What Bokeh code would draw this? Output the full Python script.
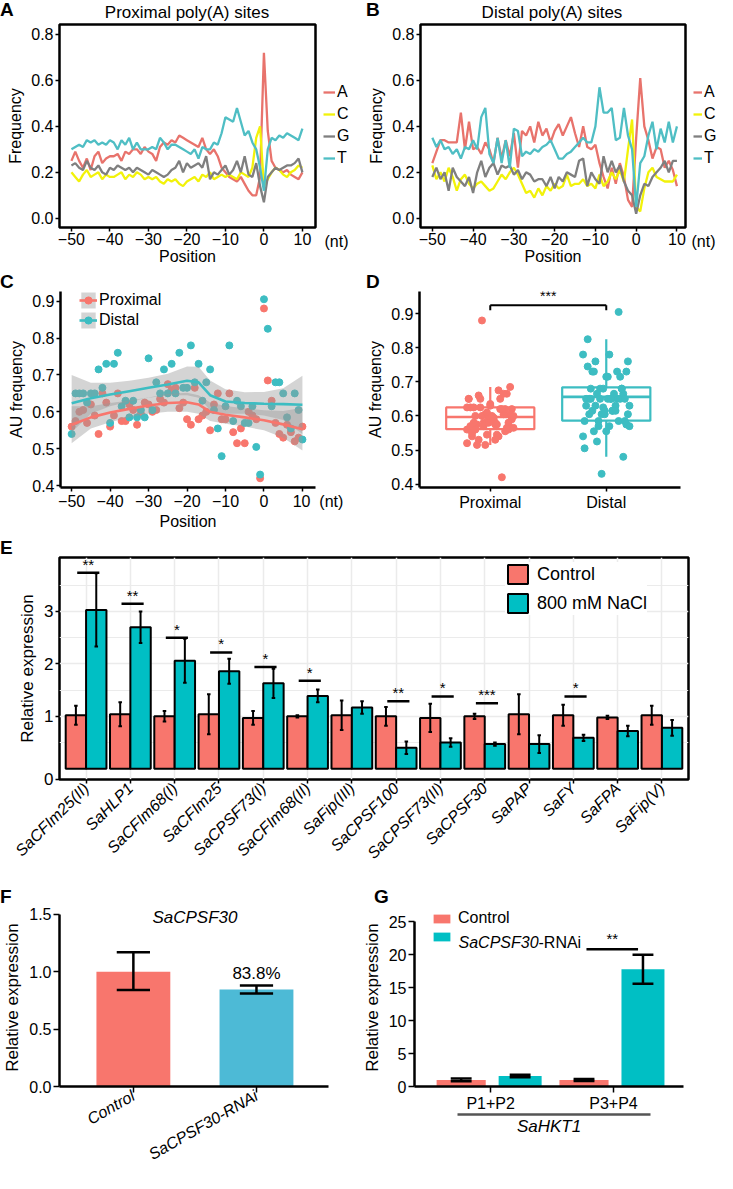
import math
from bokeh.plotting import figure
from bokeh.models import (ColumnDataSource, Legend, LegendItem, FixedTicker, Div,
                          LinearAxis, FactorRange, Range1d, PrintfTickFormatter)
from bokeh.layouts import column, row
from bokeh.transform import dodge
from bokeh.embed import file_html
from bokeh.resources import INLINE
from bokeh.core.properties import value

FONT = "Liberation Sans"

# ---------------- data: panels A / B (nucleotide frequency) ----------------
positions = list(range(-50, 11))
nucleotides = ["A", "C", "G", "T"]
prox_A = [0.25, 0.29, 0.25, 0.22, 0.26, 0.21, 0.27, 0.29, 0.24, 0.26,
          0.27, 0.27, 0.28, 0.25, 0.29, 0.28, 0.30, 0.30, 0.28, 0.31,
          0.29, 0.28, 0.25, 0.31, 0.33, 0.32, 0.34, 0.33, 0.36, 0.35,
          0.34, 0.33, 0.32, 0.31, 0.35, 0.30, 0.28, 0.30, 0.27, 0.22,
          0.20, 0.18, 0.17, 0.16, 0.18, 0.15, 0.12, 0.10, 0.10, 0.18,
          0.72, 0.38, 0.25, 0.22, 0.21, 0.20, 0.21, 0.19, 0.18, 0.17, 0.20]
prox_C = [0.20, 0.18, 0.16, 0.19, 0.21, 0.18, 0.19, 0.20, 0.17, 0.19,
          0.18, 0.18, 0.19, 0.20, 0.17, 0.19, 0.18, 0.20, 0.19, 0.17,
          0.18, 0.17, 0.18, 0.16, 0.15, 0.17, 0.16, 0.17, 0.15, 0.14,
          0.16, 0.17, 0.18, 0.16, 0.19, 0.18, 0.20, 0.17, 0.18, 0.19,
          0.18, 0.19, 0.18, 0.17, 0.20, 0.19, 0.18, 0.22, 0.35, 0.40,
          0.14, 0.17, 0.20, 0.22, 0.21, 0.19, 0.18, 0.20, 0.21, 0.23, 0.22]
prox_G = [0.23, 0.24, 0.22, 0.21, 0.25, 0.22, 0.21, 0.23, 0.20, 0.19,
          0.22, 0.21, 0.23, 0.22, 0.21, 0.22, 0.20, 0.22, 0.21, 0.20,
          0.19, 0.21, 0.20, 0.19, 0.18, 0.19, 0.21, 0.22, 0.25, 0.20,
          0.24, 0.22, 0.23, 0.24, 0.22, 0.27, 0.17, 0.20, 0.19, 0.21,
          0.23, 0.19, 0.21, 0.25, 0.20, 0.27, 0.19, 0.18, 0.24, 0.14,
          0.07, 0.18, 0.20, 0.22, 0.21, 0.22, 0.23, 0.23, 0.24, 0.26, 0.20]
prox_T = [0.30, 0.31, 0.32, 0.31, 0.34, 0.33, 0.34, 0.32, 0.33, 0.32,
          0.34, 0.33, 0.30, 0.34, 0.32, 0.35, 0.30, 0.33, 0.30, 0.30,
          0.30, 0.31, 0.30, 0.35, 0.33, 0.30, 0.32, 0.32, 0.31, 0.30,
          0.29, 0.28, 0.30, 0.26, 0.31, 0.30, 0.30, 0.33, 0.32, 0.37,
          0.44, 0.43, 0.42, 0.48, 0.42, 0.36, 0.38, 0.33, 0.30, 0.22,
          0.12, 0.30, 0.35, 0.34, 0.36, 0.35, 0.37, 0.36, 0.35, 0.34, 0.39]
dist_A = [0.24, 0.29, 0.34, 0.34, 0.33, 0.33, 0.33, 0.46, 0.30, 0.42,
          0.30, 0.31, 0.28, 0.33, 0.30, 0.24, 0.35, 0.26, 0.34, 0.27,
          0.37, 0.22, 0.38, 0.36, 0.40, 0.33, 0.42, 0.36, 0.39, 0.33,
          0.38, 0.41, 0.36, 0.40, 0.44, 0.37, 0.31, 0.40, 0.31, 0.30,
          0.32, 0.24, 0.18, 0.13, 0.22, 0.15, 0.24, 0.18, 0.08, 0.05,
          0.35, 0.61, 0.40, 0.34, 0.26, 0.31, 0.30, 0.22, 0.25, 0.21, 0.14]
dist_C = [0.23, 0.17, 0.20, 0.16, 0.22, 0.18, 0.12, 0.17, 0.19, 0.15,
          0.13, 0.15, 0.16, 0.14, 0.12, 0.13, 0.16, 0.19, 0.17, 0.20,
          0.22, 0.19, 0.15, 0.11, 0.12, 0.09, 0.13, 0.10, 0.14, 0.12,
          0.15, 0.13, 0.14, 0.19, 0.14, 0.15, 0.15, 0.17, 0.14, 0.15,
          0.13, 0.19, 0.14, 0.16, 0.20, 0.17, 0.21, 0.16, 0.30, 0.43,
          0.05, 0.03, 0.13, 0.20, 0.22, 0.18, 0.17, 0.16, 0.16, 0.16, 0.19]
dist_G = [0.18, 0.22, 0.17, 0.20, 0.12, 0.22, 0.18, 0.16, 0.14, 0.18,
          0.11, 0.20, 0.25, 0.18, 0.22, 0.24, 0.19, 0.23, 0.22, 0.23,
          0.19, 0.21, 0.17, 0.20, 0.19, 0.16, 0.17, 0.17, 0.14, 0.18,
          0.13, 0.18, 0.16, 0.20, 0.19, 0.18, 0.25, 0.26, 0.14, 0.20,
          0.17, 0.15, 0.27, 0.20, 0.25, 0.20, 0.23, 0.16, 0.12, 0.10,
          0.02, 0.10, 0.15, 0.14, 0.18, 0.20, 0.22, 0.25, 0.20, 0.25, 0.25]
dist_T = [0.35, 0.31, 0.34, 0.30, 0.31, 0.28, 0.30, 0.26, 0.31, 0.30,
          0.34, 0.30, 0.44, 0.48, 0.28, 0.24, 0.35, 0.24, 0.34, 0.22,
          0.39, 0.38, 0.27, 0.29, 0.28, 0.30, 0.29, 0.31, 0.32, 0.34,
          0.30, 0.26, 0.26, 0.28, 0.29, 0.31, 0.33, 0.35, 0.33, 0.33,
          0.40, 0.57, 0.46, 0.46, 0.48, 0.34, 0.35, 0.48, 0.36, 0.30,
          0.05, 0.24, 0.27, 0.36, 0.42, 0.30, 0.39, 0.33, 0.42, 0.33, 0.40]

# ---------------- data: panels C / D (AU frequency) ----------------
prox_au = [0.56, 0.575, 0.60, 0.605, 0.57, 0.62, 0.59, 0.54, 0.65, 0.625,
           0.56, 0.59, 0.65, 0.575, 0.575, 0.62, 0.605, 0.565, 0.595, 0.625,
           0.62, 0.60, 0.605, 0.635, 0.625, 0.675, 0.66, 0.665, 0.61, 0.625,
           0.58, 0.565, 0.665, 0.58, 0.59, 0.60, 0.55, 0.62, 0.65, 0.58,
           0.58, 0.65, 0.545, 0.515, 0.555, 0.515, 0.60, 0.59, 0.58, 0.42,
           0.88, 0.685, 0.63, 0.57, 0.54, 0.53, 0.565, 0.545, 0.52, 0.53, 0.56]
dist_au = [0.54, 0.65, 0.65, 0.65, 0.625, 0.65, 0.65, 0.715, 0.665, 0.73,
           0.57, 0.73, 0.76, 0.615, 0.63, 0.585, 0.63, 0.585, 0.605, 0.585,
           0.745, 0.605, 0.68, 0.65, 0.715, 0.65, 0.73, 0.65, 0.76, 0.665,
           0.665, 0.78, 0.68, 0.73, 0.63, 0.68, 0.715, 0.605, 0.555, 0.48,
           0.615, 0.78, 0.575, 0.63, 0.615, 0.57, 0.57, 0.615, 0.505, 0.43,
           0.905, 0.825, 0.615, 0.68, 0.68, 0.65, 0.585, 0.555, 0.65, 0.605, 0.525]
smooth_pos = [-50, -45, -40, -35, -30, -25, -20, -17, -14, -10, -5, 0, 5, 10]
prox_fit = [0.565, 0.585, 0.598, 0.608, 0.617, 0.624, 0.626, 0.620, 0.600, 0.592, 0.585, 0.577, 0.566, 0.553]
prox_lo = [0.515, 0.555, 0.572, 0.585, 0.595, 0.600, 0.600, 0.595, 0.575, 0.568, 0.560, 0.550, 0.530, 0.495]
prox_hi = [0.615, 0.615, 0.624, 0.631, 0.639, 0.648, 0.652, 0.645, 0.625, 0.616, 0.610, 0.604, 0.602, 0.611]
dist_fit = [0.623, 0.637, 0.647, 0.656, 0.665, 0.674, 0.684, 0.680, 0.645, 0.628, 0.624, 0.622, 0.621, 0.619]
dist_lo = [0.545, 0.595, 0.615, 0.628, 0.638, 0.645, 0.645, 0.638, 0.605, 0.595, 0.595, 0.590, 0.578, 0.540]
dist_hi = [0.700, 0.679, 0.679, 0.684, 0.692, 0.703, 0.723, 0.722, 0.685, 0.661, 0.653, 0.654, 0.664, 0.698]

box_groups = ["Proximal", "Distal"]
box_q1 = [0.561, 0.586]
box_med = [0.597, 0.656]
box_q3 = [0.625, 0.684]
box_lo = [0.515, 0.48]
box_hi = [0.685, 0.825]
d_sig_y = 0.925
d_sig_label = "***"

# ---------------- data: panel E ----------------
genes = ["SaCFIm25(II)", "SaHLP1", "SaCFIm68(I)", "SaCFIm25", "SaCPSF73(I)", "SaCFIm68(II)",
         "SaFip(III)", "SaCPSF100", "SaCPSF73(II)", "SaCPSF30", "SaPAP", "SaFY", "SaFPA", "SaFip(V)"]
ctrl_mean = [1.02, 1.04, 1.00, 1.04, 0.97, 1.00, 1.02, 1.00, 0.97, 1.00, 1.04, 1.02, 0.98, 1.02]
ctrl_err = [0.18, 0.23, 0.10, 0.38, 0.13, 0.02, 0.28, 0.18, 0.27, 0.05, 0.38, 0.20, 0.03, 0.18]
nacl_mean = [3.03, 2.70, 2.06, 1.86, 1.63, 1.39, 1.17, 0.40, 0.50, 0.47, 0.47, 0.59, 0.72, 0.78]
nacl_err = [0.70, 0.30, 0.42, 0.24, 0.28, 0.12, 0.12, 0.12, 0.08, 0.03, 0.17, 0.06, 0.10, 0.15]
sig_stars = ["**", "**", "*", "*", "*", "*", "", "**", "*", "***", "", "*", "", ""]
sig_level = [3.74, 3.15, 2.50, 2.22, 1.94, 1.68, 0, 1.29, 1.38, 1.25, 0, 1.38, 0, 0]

# ---------------- data: panel F ----------------
f_groups = ["Control", "SaCPSF30-RNAi"]
f_mean = [1.0, 0.845]
f_lo = [0.84, 0.81]
f_hi = [1.17, 0.88]
f_note = "83.8%"

# ---------------- data: panel G ----------------
g_groups = ["P1+P2", "P3+P4"]
g_ctrl = [1.0, 1.0]
g_ctrl_err = [0.2, 0.15]
g_rnai = [1.6, 17.8]
g_rnai_err = [0.2, 2.2]
g_sig = "**"
g_sig_y = 20.8

RED = "#F8766D"
CYAN = "#00BFC4"
TEAL_PT = "#3DBDC2"
nt_colors = ["#E8736C", "#F2F20A", "#7F7F7F", "#4FBEC4"]
NAN = float("nan")


def make_fig(w, h, xr, yr, ml, mr, mt, mb):
    p = figure(width=w, height=h, x_range=xr, y_range=yr, output_backend="svg",
               toolbar_location=None, min_border_left=ml, min_border_right=mr,
               min_border_top=mt, min_border_bottom=mb)
    p.background_fill_color = "white"
    p.border_fill_color = "white"
    p.xgrid.grid_line_color = None
    p.ygrid.grid_line_color = None
    p.outline_line_color = None
    return p


def style_axes(p, tick_size="16px", label_size="16px", line_w=2.5):
    for ax in p.axis:
        ax.axis_line_color = "black"
        ax.axis_line_width = line_w
        ax.major_tick_line_color = "black"
        ax.major_tick_line_width = 1.5
        ax.major_tick_out = 4
        ax.major_tick_in = 0
        ax.minor_tick_line_color = None
        ax.major_label_text_font = FONT
        ax.major_label_text_font_size = tick_size
        ax.major_label_text_color = "black"
        ax.axis_label_text_font = FONT
        ax.axis_label_text_font_size = label_size
        ax.axis_label_text_font_style = "normal"
        ax.axis_label_text_color = "black"
        ax.major_label_standoff = 2
        ax.axis_label_standoff = 4


def strip_div(h, items):
    html = '<div style="position:relative;width:717px;height:%dpx;">' % h
    for txt, x, base, size, bold, center in items:
        top = max(0.0, base - 0.846 * size)
        tr = "transform:translateX(-50%);" if center else ""
        html += ('<span style="position:absolute;left:%spx;top:%.1fpx;%s'
                 "font-family:'Liberation Sans',Arial,sans-serif;font-size:%dpx;"
                 'font-weight:%s;line-height:1;white-space:nowrap;color:black;">%s</span>'
                 % (x, top, tr, size, "bold" if bold else "normal", txt))
    html += "</div>"
    return Div(text=html, width=717, height=h, margin=(0, 0, 0, 0))


def freq_panel(cols, w, ml, mr, xr):
    src = ColumnDataSource(dict(pos=positions, A=cols[0], C=cols[1], G=cols[2], T=cols[3]))
    p = make_fig(w, 246, Range1d(*xr), Range1d(-0.04, 0.843), ml, mr, 2, 41)
    for key, col in zip(nucleotides, nt_colors):
        p.line("pos", key, source=src, line_color=col, line_width=2.3)
    p.outline_line_color = "black"
    p.outline_line_width = 2.5
    p.outline_line_alpha = 1
    p.xaxis.ticker = FixedTicker(ticks=[-50, -40, -30, -20, -10, 0, 10])
    p.yaxis.ticker = FixedTicker(ticks=[0, 0.2, 0.4, 0.6, 0.8])
    p.yaxis.formatter = PrintfTickFormatter(format="%.1f")
    p.xaxis.axis_label = "Position"
    p.yaxis.axis_label = "Frequency"
    style_axes(p)
    for ax in p.axis:
        ax.axis_line_color = None
    p.xaxis.axis_label_standoff = 0
    p.xaxis.major_label_standoff = 1
    return p


def nt_legend_fig(w, lx, glyph_w, tick_x):
    lf = figure(width=w, height=246, x_range=Range1d(0, w), y_range=Range1d(0, 1),
                output_backend="svg", toolbar_location=None, min_border_left=0,
                min_border_right=0, min_border_top=2, min_border_bottom=41,
                y_axis_location=None)
    lf.xgrid.grid_line_color = None
    lf.ygrid.grid_line_color = None
    lf.outline_line_color = None
    rs = [lf.line(x=[NAN], y=[NAN], line_color=c, line_width=2.3) for c in nt_colors]
    leg = Legend(items=[LegendItem(label=k, renderers=[r]) for k, r in zip(nucleotides, rs)],
                 location=(lx, 59), border_line_color=None, background_fill_alpha=0,
                 glyph_width=glyph_w, glyph_height=20, label_height=20, spacing=2, padding=0,
                 margin=0, label_standoff=2, label_text_font=FONT, label_text_font_size="16px",
                 label_text_color="black")
    lf.add_layout(leg)
    lf.xaxis.ticker = FixedTicker(ticks=[tick_x])
    lf.xaxis.major_label_overrides = {tick_x: "(nt)"}
    style_axes(lf)
    lf.xaxis.axis_line_color = None
    lf.xaxis.major_tick_line_color = None
    lf.xaxis.major_label_standoff = 1
    return lf


# ---------------- row 1: A / B ----------------
strip1 = strip_div(22, [("A", 0, 16, 19, True, False), ("B", 366, 16, 19, True, False),
                        ("Proximal poly(A) sites", 187, 18, 17, False, True),
                        ("Distal poly(A) sites", 552, 18, 17, False, True)])
pa = freq_panel([prox_A, prox_C, prox_G, prox_T], 322, 59, 7, (-53.1, 13.4))
la = nt_legend_fig(36, 1, 12, 14)
pb = freq_panel([dist_A, dist_C, dist_G, dist_T], 331, 62, 4, (-52.9, 12.1))
lb = nt_legend_fig(28, 4, 9, 14)

# ---------------- row 2: C / D ----------------
strip2 = strip_div(21, [("C", 0, 20, 19, True, False), ("D", 366, 20, 19, True, False)])
pc = make_fig(358, 243, Range1d(-52.9, 13.4), Range1d(0.395, 0.926), 60, 43, 2, 42)
sp = pc.scatter(positions, prox_au, size=7, color=RED)
sd = pc.scatter(positions, dist_au, size=7, color=TEAL_PT)
bp = pc.varea(x=smooth_pos, y1=prox_lo, y2=prox_hi, fill_color="#999999", fill_alpha=0.42)
bd = pc.varea(x=smooth_pos, y1=dist_lo, y2=dist_hi, fill_color="#999999", fill_alpha=0.42)
lp = pc.line(smooth_pos, prox_fit, line_color=RED, line_width=2.6)
ld = pc.line(smooth_pos, dist_fit, line_color=TEAL_PT, line_width=2.6)
pc.xaxis.ticker = FixedTicker(ticks=[-50, -40, -30, -20, -10, 0, 10])
pc.xaxis.major_label_overrides = {10: "\u00a0" * 7 + "10\u00a0\u00a0(nt)"}
pc.yaxis.ticker = FixedTicker(ticks=[0.4, 0.5, 0.6, 0.7, 0.8, 0.9])
pc.yaxis.formatter = PrintfTickFormatter(format="%.1f")
pc.xaxis.axis_label = "Position"
pc.yaxis.axis_label = "AU frequency"
style_axes(pc)
pc.xaxis.axis_label_standoff = 0
pc.xaxis.major_label_standoff = 1
legc = Legend(items=[LegendItem(label="Proximal", renderers=[bp, lp, sp]),
                     LegendItem(label="Distal", renderers=[bd, ld, sd])],
              location=(19, 157), border_line_color=None, background_fill_alpha=0,
              glyph_width=18, glyph_height=20, label_height=20, spacing=0, padding=0,
              margin=0, label_standoff=2, label_text_font=FONT, label_text_font_size="16px",
              label_text_color="black")
pc.add_layout(legc)

pd_ = make_fig(359, 243, Range1d(0.39, 2.64), Range1d(0.39, 0.965), 61, 37, 2, 42)
box_src = ColumnDataSource(dict(x=[1, 2], q1=box_q1, med=box_med, q3=box_q3, lo=box_lo,
                                hi=box_hi, color=[RED, TEAL_PT]))
pd_.segment(x0="x", x1="x", y0="q3", y1="hi", source=box_src, line_color="color", line_width=2.2)
pd_.segment(x0="x", x1="x", y0="lo", y1="q1", source=box_src, line_color="color", line_width=2.2)
pd_.vbar(x="x", width=0.76, bottom="q1", top="q3", source=box_src, fill_color="white",
         fill_alpha=0, line_color="color", line_width=2.2)
pd_.segment(x0=dodge("x", -0.38), x1=dodge("x", 0.38), y0="med", y1="med", source=box_src,
            line_color="color", line_width=2.6)
n = len(prox_au)
jit = [(((i * 17) % 29) / 28.0 - 0.5) * 0.4 for i in range(n)]
jit2 = [(((i * 11) % 31) / 30.0 - 0.5) * 0.4 for i in range(n)]
pd_.scatter([1 + j for j in jit], prox_au, size=7, color=RED)
pd_.scatter([2 + j for j in jit2], dist_au, size=7, color=TEAL_PT)
br = ColumnDataSource(dict(x0=[1, 1, 2], x1=[2, 1, 2], y0=[d_sig_y] * 3,
                           y1=[d_sig_y, d_sig_y - 0.015, d_sig_y - 0.015]))
pd_.segment(x0="x0", x1="x1", y0="y0", y1="y1", source=br, line_color="black", line_width=2)
pd_.text(x=[1.5], y=[d_sig_y + 0.003], text=[d_sig_label], text_font=value(FONT),
         text_font_size="14px", text_align="center", text_baseline="bottom")
pd_.xaxis.ticker = FixedTicker(ticks=[1, 2])
pd_.xaxis.major_label_overrides = {1: box_groups[0], 2: box_groups[1]}
pd_.yaxis.ticker = FixedTicker(ticks=[0.4, 0.5, 0.6, 0.7, 0.8, 0.9])
pd_.yaxis.formatter = PrintfTickFormatter(format="%.1f")
pd_.yaxis.axis_label = "AU frequency"
style_axes(pd_)

# ---------------- row 3: E ----------------
strip3 = strip_div(23, [("E", 0, 22, 19, True, False)])
pe = make_fig(717, 332, FactorRange(factors=genes, range_padding=0.1, range_padding_units="absolute"),
              Range1d(-0.205, 4.03), 59, 29, 2, 108)
pe.xgrid.grid_line_color = "#EBEBEB"
pe.xgrid.grid_line_width = 1.5
pe.ygrid.grid_line_color = "#EBEBEB"
pe.ygrid.grid_line_width = 1.5
pe.ygrid.minor_grid_line_color = "#EBEBEB"
pe.ygrid.minor_grid_line_width = 1
pe.ygrid.ticker = FixedTicker(ticks=[1, 2, 3], minor_ticks=[0.5, 1.5, 2.5, 3.5])
src_e = ColumnDataSource(dict(
    gene=genes, ctrl=ctrl_mean, nacl=nacl_mean,
    ctrl_lo=[m - e for m, e in zip(ctrl_mean, ctrl_err)],
    ctrl_hi=[m + e for m, e in zip(ctrl_mean, ctrl_err)],
    nacl_lo=[m - e for m, e in zip(nacl_mean, nacl_err)],
    nacl_hi=[m + e for m, e in zip(nacl_mean, nacl_err)]))
rc = pe.vbar(x=dodge("gene", -0.23, range=pe.x_range), top="ctrl", bottom=0, width=0.46,
             source=src_e, fill_color=RED, line_color="black", line_width=2)
rn = pe.vbar(x=dodge("gene", 0.23, range=pe.x_range), top="nacl", bottom=0, width=0.46,
             source=src_e, fill_color=CYAN, line_color="black", line_width=2)
for off, lo, hi in [(-0.23, "ctrl_lo", "ctrl_hi"), (0.23, "nacl_lo", "nacl_hi")]:
    pe.segment(x0=dodge("gene", off, range=pe.x_range), x1=dodge("gene", off, range=pe.x_range),
               y0=lo, y1=hi, source=src_e, line_color="black", line_width=2)
    for end in (lo, hi):
        pe.segment(x0=dodge("gene", off - 0.04, range=pe.x_range),
                   x1=dodge("gene", off + 0.04, range=pe.x_range),
                   y0=end, y1=end, source=src_e, line_color="black", line_width=2)
sig_idx = [i for i, s in enumerate(sig_stars) if s]
src_sig = ColumnDataSource(dict(gene=[genes[i] for i in sig_idx],
                                y=[sig_level[i] for i in sig_idx],
                                star=[sig_stars[i] for i in sig_idx]))
pe.segment(x0=dodge("gene", -0.2, range=pe.x_range), x1=dodge("gene", 0.3, range=pe.x_range),
           y0="y", y1="y", source=src_sig, line_color="black", line_width=2.5)
pe.text(x=dodge("gene", 0.05, range=pe.x_range), y="y", text="star", source=src_sig,
        text_font=value(FONT), text_font_size="15px", text_align="center",
        text_baseline="bottom")
pe.outline_line_color = "black"
pe.outline_line_width = 2.5
pe.outline_line_alpha = 1
pe.yaxis.ticker = FixedTicker(ticks=[-0.2, 1, 2, 3])
pe.yaxis.formatter = PrintfTickFormatter(format="%d")
pe.yaxis.major_label_overrides = {-0.2: "0"}
pe.yaxis.axis_label = "Relative expression"
style_axes(pe, tick_size="17px", label_size="17px")
for ax in pe.axis:
    ax.axis_line_color = None
pe.xaxis.major_label_orientation = math.pi / 4
pe.xaxis.major_label_text_font_style = "italic"
pe.xaxis.major_label_text_font_size = "16px"
lege = Legend(items=[LegendItem(label="Control", renderers=[rc]),
                     LegendItem(label="800 mM NaCl", renderers=[rn])],
              location=(446, 164), border_line_color=None, background_fill_color="white",
              background_fill_alpha=1, glyph_width=25, glyph_height=24, label_height=24,
              spacing=5, padding=0, margin=0, label_standoff=7,
              label_text_font=FONT, label_text_font_size="18px", label_text_color="black")
pe.add_layout(lege)

# ---------------- row 4: F / G ----------------
strip4 = strip_div(18, [("F", 0, 16, 19, True, False), ("G", 374, 16, 19, True, False)])
pf = make_fig(358, 268, Range1d(0.4, 2.585), Range1d(0, 1.55), 59, 30, 3, 80)
src_f = ColumnDataSource(dict(x=[1, 2], val=f_mean, lo=f_lo, hi=f_hi, color=[RED, "#4DBAD6"]))
pf.vbar(x="x", width=0.6, top="val", bottom=0, source=src_f, fill_color="color", line_color=None)
pf.segment(x0="x", x1="x", y0="lo", y1="hi", source=src_f, line_color="black", line_width=2.5)
for end in ("lo", "hi"):
    pf.segment(x0=dodge("x", -0.135), x1=dodge("x", 0.135), y0=end, y1=end, source=src_f,
               line_color="black", line_width=2.5)
pf.text(x=[1.5], y=[1.47], text=["SaCPSF30"], text_font=value(FONT), text_font_size="17px",
        text_font_style="italic", text_align="center", text_baseline="middle")
pf.text(x=[2], y=[f_hi[1] + 0.02], text=[f_note], text_font=value(FONT), text_font_size="17px",
        text_align="center", text_baseline="bottom")
pf.xaxis.ticker = FixedTicker(ticks=[1, 2])
pf.xaxis.major_label_overrides = {1: f_groups[0], 2: f_groups[1]}
pf.yaxis.ticker = FixedTicker(ticks=[0, 0.5, 1.0, 1.5])
pf.yaxis.formatter = PrintfTickFormatter(format="%.1f")
pf.yaxis.bounds = (0, 1.5)
pf.yaxis.axis_label = "Relative expression"
style_axes(pf, tick_size="16px", label_size="17px")
pf.xaxis.major_label_orientation = 0.52
pf.xaxis.major_label_text_font_style = "italic"
for ax in pf.axis:
    ax.major_tick_out = 6

pg = make_fig(359, 268, Range1d(0.38, 2.57), Range1d(0, 27), 56, 34, 3, 80)
src_g = ColumnDataSource(dict(
    x=[1, 2], ctrl=g_ctrl, rnai=g_rnai,
    ctrl_lo=[m - e for m, e in zip(g_ctrl, g_ctrl_err)],
    ctrl_hi=[m + e for m, e in zip(g_ctrl, g_ctrl_err)],
    rnai_lo=[m - e for m, e in zip(g_rnai, g_rnai_err)],
    rnai_hi=[m + e for m, e in zip(g_rnai, g_rnai_err)]))
gc = pg.vbar(x=dodge("x", -0.24), top="ctrl", bottom=0, width=0.4, source=src_g,
             fill_color=RED, line_color=None)
gr = pg.vbar(x=dodge("x", 0.24), top="rnai", bottom=0, width=0.35, source=src_g,
             fill_color=CYAN, line_color=None)
for off, lo, hi in [(-0.24, "ctrl_lo", "ctrl_hi"), (0.24, "rnai_lo", "rnai_hi")]:
    pg.segment(x0=dodge("x", off), x1=dodge("x", off), y0=lo, y1=hi, source=src_g,
               line_color="black", line_width=2.5)
    for end in (lo, hi):
        pg.segment(x0=dodge("x", off - 0.085), x1=dodge("x", off + 0.085), y0=end, y1=end,
                   source=src_g, line_color="black", line_width=2.5)
pg.segment(x0=[2 - 0.22], x1=[2 + 0.2], y0=[g_sig_y], y1=[g_sig_y], line_color="black",
           line_width=2.5)
pg.text(x=[1.99], y=[g_sig_y + 0.3], text=[g_sig], text_font=value(FONT), text_font_size="15px",
        text_align="center", text_baseline="bottom")
pg.xaxis.ticker = FixedTicker(ticks=[1, 2])
pg.xaxis.major_label_overrides = {1: g_groups[0], 2: g_groups[1]}
pg.yaxis.ticker = FixedTicker(ticks=[0, 5, 10, 15, 20, 25])
pg.yaxis.bounds = (0, 25)
pg.yaxis.axis_label = "Relative expression"
hkt = LinearAxis(ticker=FixedTicker(ticks=[]), bounds=(0.73, 2.30), axis_label="SaHKT1")
pg.add_layout(hkt, "below")
style_axes(pg, tick_size="16px", label_size="17px")
for ax in pg.axis:
    ax.major_tick_out = 6
hkt.axis_line_color = "#555555"
hkt.axis_label_text_font_style = "italic"
hkt.axis_label_standoff = 2
hkt.major_tick_out = 0
legg = Legend(items=[LegendItem(label="Control", renderers=[gc]),
                     LegendItem(label="\u00a0", renderers=[gr])],
              location=(17, 141), border_line_color=None, background_fill_alpha=0,
              glyph_width=21, glyph_height=11, label_height=17, spacing=0, padding=0,
              margin=0, label_standoff=6, label_text_font=FONT, label_text_font_size="16px",
              label_text_color="black")
pg.add_layout(legg)
pg.text(x=[0.38], y=[21.8], x_offset=44, text=["SaCPSF30"], text_font=value(FONT),
        text_font_size="16px", text_font_style="italic", text_align="left",
        text_baseline="middle")
pg.text(x=[0.38], y=[21.8], x_offset=124, text=["-RNAi"], text_font=value(FONT),
        text_font_size="16px", text_align="left", text_baseline="middle")

layout = column(strip1, row(pa, la, pb, lb), strip2, row(pc, pd_), strip3, pe, strip4,
                row(pf, pg))
with open("out.html", "w") as f:
    f.write(file_html(layout, INLINE))
